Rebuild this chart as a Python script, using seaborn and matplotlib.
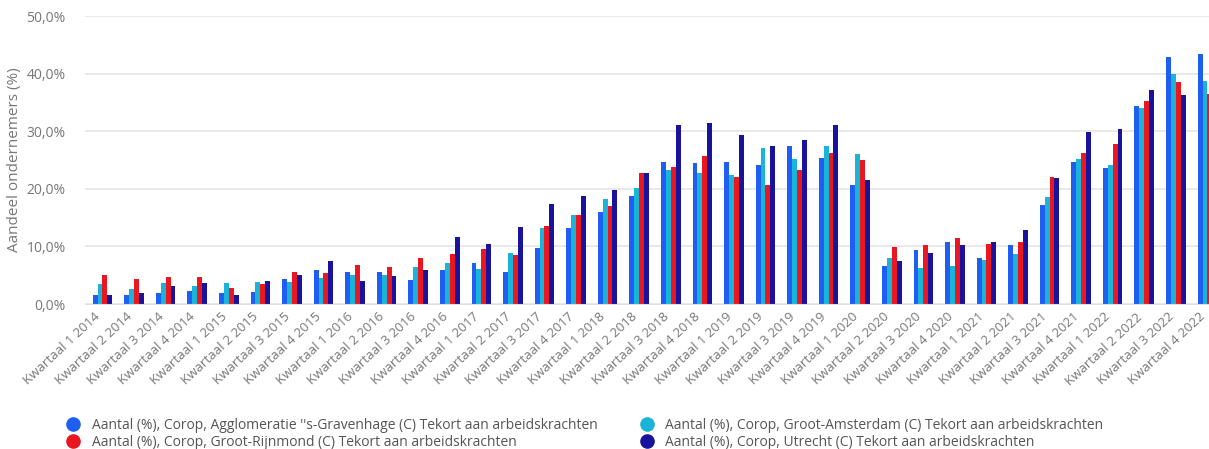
import numpy as np
import pandas as pd
import matplotlib
matplotlib.use("Agg")
import matplotlib.pyplot as plt
import matplotlib.transforms as mtransforms
from matplotlib.lines import Line2D
from matplotlib.ticker import FuncFormatter
import seaborn as sns

# Quarters 2014 Q1 .. 2022 Q4
quarters = [f"Kwartaal {q} {y}" for y in range(2014, 2023) for q in range(1, 5)]

series_names = [
    "Aantal (%), Corop, Agglomeratie ''s-Gravenhage (C) Tekort aan arbeidskrachten",
    "Aantal (%), Corop, Groot-Amsterdam (C) Tekort aan arbeidskrachten",
    "Aantal (%), Corop, Groot-Rijnmond (C) Tekort aan arbeidskrachten",
    "Aantal (%), Corop, Utrecht (C) Tekort aan arbeidskrachten",
]
colors = ["#1f5ef2", "#1ab4d8", "#ea1620", "#17139c"]

den_haag = [1.6, 1.6, 1.85, 2.2, 1.85, 2.1, 4.4, 5.9, 5.6, 5.6, 4.2, 5.9,
            7.1, 5.6, 9.7, 13.2, 15.9, 18.8, 24.7, 24.4, 24.7, 24.2, 27.4, 25.4,
            20.6, 6.6, 9.3, 10.8, 7.9, 10.3, 17.2, 24.6, 23.6, 34.3, 42.9, 43.4]
amsterdam = [3.4, 2.6, 3.6, 3.1, 3.6, 3.8, 3.8, 4.6, 5.1, 5.0, 6.5, 7.1,
             6.0, 8.9, 13.2, 15.4, 18.3, 20.1, 23.3, 22.7, 22.4, 27.0, 25.1, 27.4,
             26.0, 7.9, 6.2, 6.6, 7.7, 8.6, 18.5, 25.1, 24.2, 34.1, 39.9, 38.8]
rijnmond = [5.0, 4.3, 4.7, 4.7, 2.8, 3.4, 5.6, 5.3, 6.7, 6.5, 7.9, 8.6,
            9.5, 8.5, 13.6, 15.5, 17.0, 22.8, 23.8, 25.7, 22.0, 20.6, 23.3, 26.3,
            25.0, 9.9, 10.3, 11.5, 10.4, 10.7, 22.0, 26.3, 27.8, 35.2, 38.5, 36.5]
utrecht = [1.6, 1.85, 3.1, 3.7, 1.6, 4.0, 5.0, 7.5, 4.0, 4.8, 5.9, 11.6,
           10.4, 13.4, 17.4, 18.8, 19.8, 22.8, 31.0, 31.5, 29.4, 27.4, 28.4, 31.1,
           21.6, 7.5, 8.9, 10.3, 10.8, 12.8, 21.8, 29.8, 30.4, 37.2, 36.2, np.nan]

values = [den_haag, amsterdam, rijnmond, utrecht]

df = pd.DataFrame({
    "kwartaal": np.tile(quarters, len(series_names)),
    "reeks": np.repeat(series_names, len(quarters)),
    "aandeel": np.concatenate(values),
})

sns.set_style("white")
plt.rcParams["font.family"] = ["Open Sans", "DejaVu Sans"]

fig = plt.figure(figsize=(12.09, 4.49), dpi=100)
ax = fig.add_axes([85 / 1209, 1 - 304 / 449, 1 - 85 / 1209, (304 - 16) / 449])

sns.barplot(data=df, x="kwartaal", y="aandeel", hue="reeks", order=quarters,
            hue_order=series_names, palette=colors, width=0.62, linewidth=0,
            saturation=1, errorbar=None, legend=False, ax=ax)

ax.set_xlim(-0.554, 35.05)
ax.set_ylim(0, 50)
ax.set_yticks([0, 10, 20, 30, 40, 50])
ax.yaxis.set_major_formatter(FuncFormatter(lambda v, _: f"{v:.1f}%".replace(".", ",")))
ax.grid(axis="y", color="#e9e9e9", linewidth=1.4)
ax.set_axisbelow(True)
for side in ["top", "right", "left"]:
    ax.spines[side].set_visible(False)
ax.spines["bottom"].set_color("#dde0ec")
ax.tick_params(axis="y", length=0, pad=14, labelsize=10, labelcolor="#777777")
ax.tick_params(axis="x", length=0, pad=8, labelsize=9.5, labelcolor="#777777")
shift = mtransforms.ScaledTranslation(-4 / 100, 0, fig.dpi_scale_trans)
for lbl in ax.get_xticklabels():
    lbl.set_rotation(43)
    lbl.set_ha("right")
    lbl.set_va("center")
    lbl.set_rotation_mode("anchor")
    lbl.set_transform(lbl.get_transform() + shift)

ax.set_xlabel("")
ax.set_ylabel("Aandeel ondernemers (%)", fontsize=11, color="#777777", labelpad=3)

legend_order = [0, 2, 1, 3]
handles = [Line2D([], [], marker="o", linestyle="", markersize=9.5,
                  markerfacecolor=colors[i], markeredgecolor=colors[i])
           for i in legend_order]
labels = [series_names[i] for i in legend_order]
fig.legend(handles, labels, loc="upper left", bbox_to_anchor=(54 / 1209, 1 - 412 / 449),
           ncol=2, frameon=False, fontsize=10, labelcolor="#555555",
           handletextpad=0.3, columnspacing=2.6, labelspacing=0.2, borderaxespad=0)

fig.savefig("out.png", dpi=100)
